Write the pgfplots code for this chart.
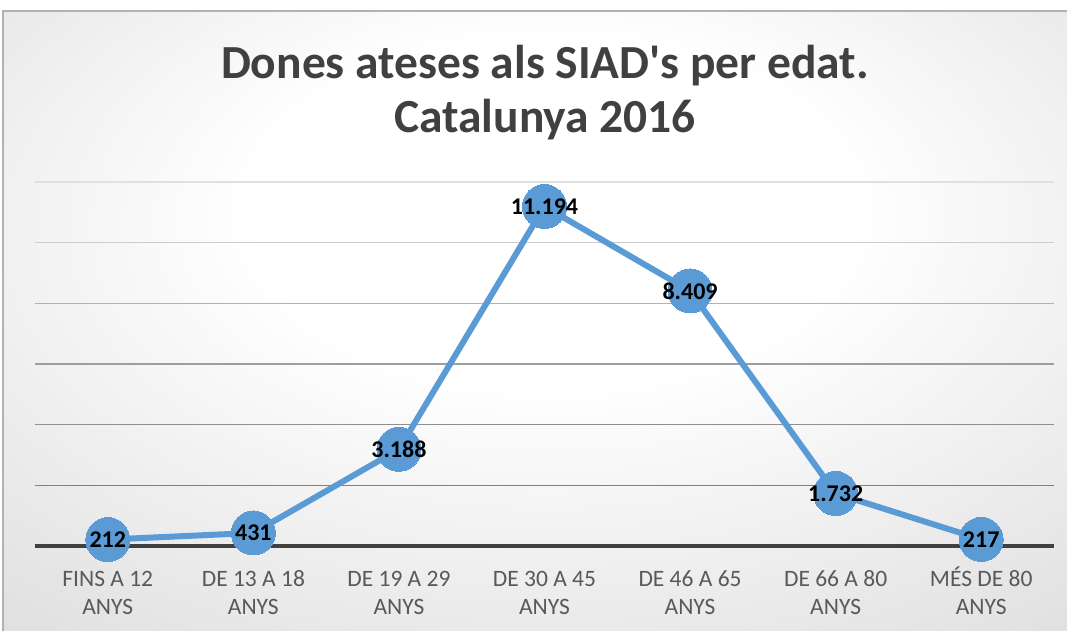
\documentclass[border=0pt]{standalone}
\usepackage{fontspec}
\setmainfont{Carlito}
\usepackage{pgfplots}
\pgfplotsset{compat=1.18}

\definecolor{serie}{HTML}{5B9BD5}
\definecolor{titol}{HTML}{404040}
\definecolor{eix}{HTML}{595959}
\pgfdeclareradialshading{fons}{\pgfpoint{1bp}{11bp}}{color(0bp)=(white); color(14bp)=(white); color(72bp)=(black!28)}
\newcommand\al{\vphantom{É}}

\pgfplotstableread{
x y lab
0 212 212
1 431 431
2 3188 3.188
3 11194 11.194
4 8409 8.409
5 1732 1.732
6 217 217
}\dades

\begin{document}
\begin{tikzpicture}[x=1pt,y=1pt]
\useasboundingbox (0,0) rectangle (1067,630);
\fill[white] (0,0) rectangle (1067,630);
\shade[shading=fons] (3,0) rectangle (1067,619);
\draw[black!30, line width=1.2pt] (3,-1) -- (3,619) -- (1068,619);

\node[text=titol, font=\fontsize{47.5}{54}\selectfont\bfseries, anchor=base] at (545,551) {Dones ateses als SIAD\textquotesingle s per edat.};
\node[text=titol, font=\fontsize{47.5}{54}\selectfont\bfseries, anchor=base] at (545,497) {Catalunya 2016};

\begin{axis}[
  at={(35pt,84pt)}, anchor=south west,
  scale only axis, width=1019pt, height=364pt,
  xmin=-0.5, xmax=6.5, ymin=0, ymax=12000,
  axis line style={draw=none},
  clip=false,
  xtick={0,...,6},
  xticklabels={{\al FINS A 12\\ANYS},{\al DE 13 A 18\\ANYS},{\al DE 19 A 29\\ANYS},{\al DE 30 A 45\\ANYS},{\al DE 46 A 65\\ANYS},{\al DE 66 A 80\\ANYS},{\al MÉS DE 80\\ANYS}},
  xticklabel style={font=\fontsize{23.5}{28}\selectfont, text=eix, align=center, yshift=-17pt},
  ytick=\empty,
  major tick length=0pt,
  nodes near coords,
  point meta=explicit symbolic,
  nodes near coords style={anchor=center, font=\fontsize{24}{24}\selectfont\bfseries, text=black},
]
\draw[black!12, line width=1.2pt] (axis cs:-0.5,12000) -- (axis cs:6.5,12000);
\draw[black!20, line width=1.2pt] (axis cs:-0.5,10000) -- (axis cs:6.5,10000);
\draw[black!30, line width=1.2pt] (axis cs:-0.5,8000) -- (axis cs:6.5,8000);
\draw[black!38, line width=1.2pt] (axis cs:-0.5,6000) -- (axis cs:6.5,6000);
\draw[black!44, line width=1.2pt] (axis cs:-0.5,4000) -- (axis cs:6.5,4000);
\draw[black!50, line width=1.2pt] (axis cs:-0.5,2000) -- (axis cs:6.5,2000);
\draw[black!75, line width=3.5pt] (axis cs:-0.5,0) -- (axis cs:6.5,0);
\addplot[serie, line width=6pt, mark=*, mark size=22pt, mark options={fill=serie, draw=serie, line width=0pt}]
  table[x=x, y=y, meta=lab] {\dades};
\end{axis}
\end{tikzpicture}
\end{document}
